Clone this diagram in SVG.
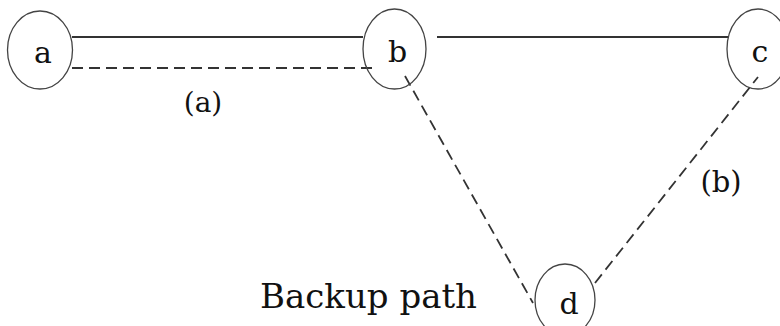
<svg xmlns="http://www.w3.org/2000/svg" width="780" height="326" viewBox="0 0 780 326">
<style>
.node{fill:none;stroke:#444;stroke-width:1.3}
.lbl{font-family:"DejaVu Serif","Liberation Serif",serif;font-size:30px;fill:#111;text-anchor:middle}
.txt{font-family:"DejaVu Serif","Liberation Serif",serif;fill:#111}
.solid{stroke:#333;stroke-width:1.8;fill:none}
.dash{stroke:#333;stroke-width:1.8;fill:none;stroke-dasharray:11 6}
</style>
<rect width="780" height="326" fill="#fff"/>
<g id="connectors">
<line class="solid" x1="72" y1="37" x2="363" y2="37"/>
<line class="solid" x1="437" y1="37" x2="728" y2="37"/>
<line class="dash" x1="72" y1="68" x2="378" y2="68"/>
<line class="dash" x1="405" y1="76" x2="533" y2="303"/>
<line class="dash" x1="595" y1="283" x2="758" y2="77"/>
</g>
<g id="node-a"><ellipse class="node" cx="40" cy="50" rx="32.5" ry="39"/><text class="lbl" x="43" y="63">a</text></g>
<g id="node-b"><ellipse class="node" cx="394.5" cy="49" rx="31.5" ry="40"/><text class="lbl" x="397.5" y="62">b</text></g>
<g id="node-c"><ellipse class="node" cx="758" cy="49" rx="31" ry="40"/><text class="lbl" x="760" y="62">c</text></g>
<g id="node-d"><ellipse class="node" cx="565" cy="300" rx="30" ry="36"/><text class="lbl" x="569" y="314">d</text></g>
<g id="labels">
<text class="txt" x="203" y="112" font-size="28" text-anchor="middle">(a)</text>
<text class="txt" x="721" y="192" font-size="29" text-anchor="middle">(b)</text>
<text class="txt" x="260" y="308" font-size="33" textLength="217" lengthAdjust="spacingAndGlyphs">Backup path</text>
</g>
</svg>
